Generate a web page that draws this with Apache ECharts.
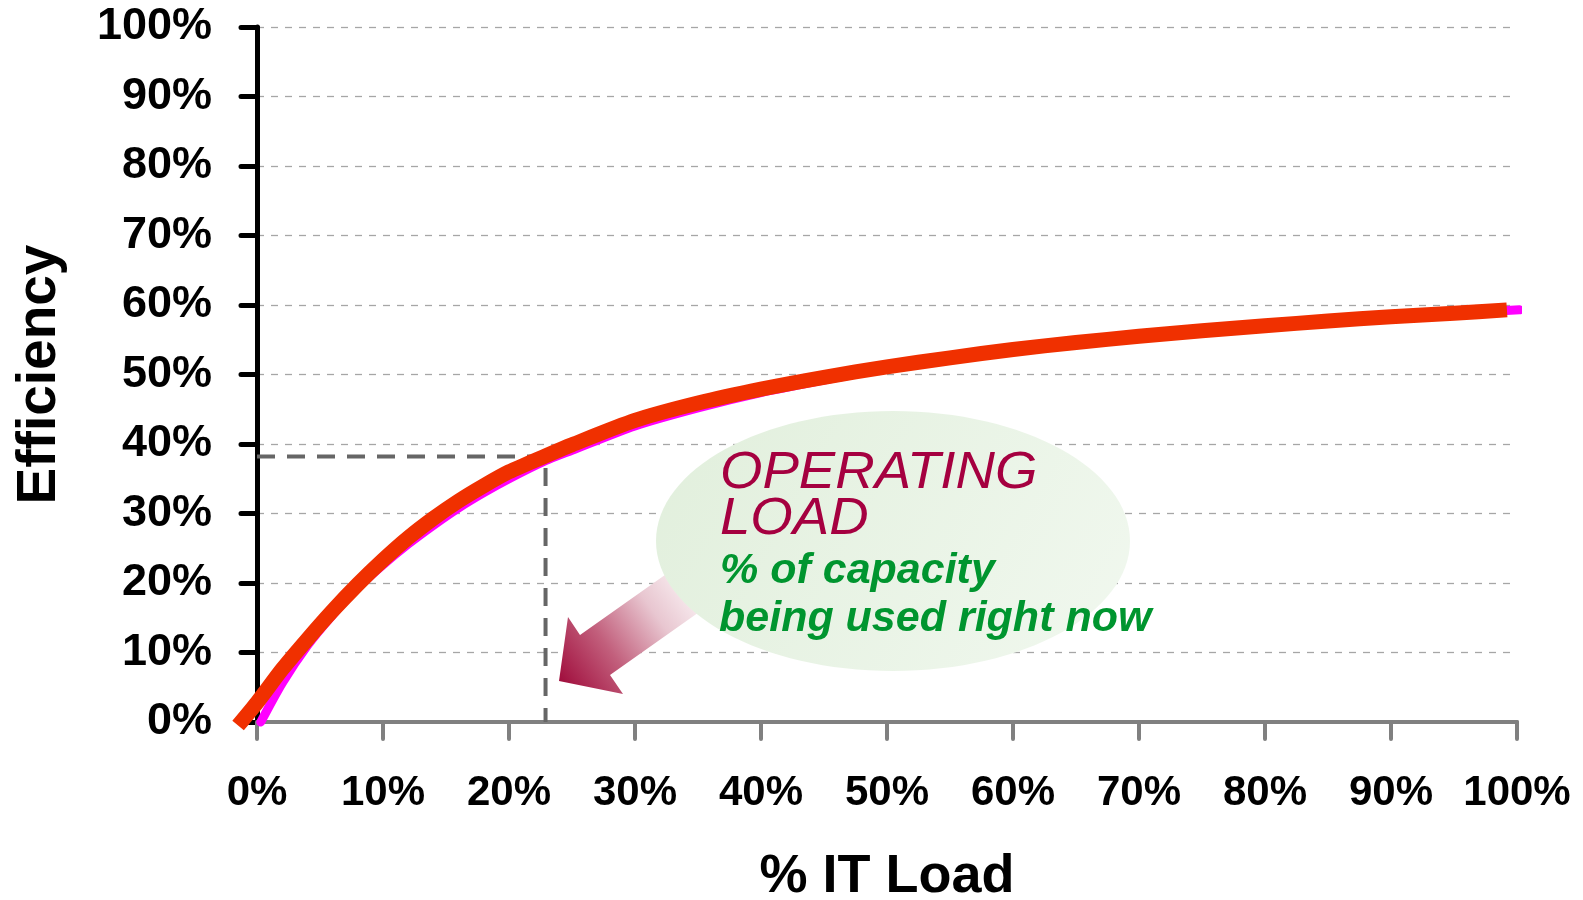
<!DOCTYPE html>
<html><head><meta charset="utf-8">
<script src="https://cdn.jsdelivr.net/npm/echarts@6/dist/echarts.min.js"></script>
<style>html,body{margin:0;padding:0;background:#fff}#c{width:1583px;height:900px}</style>
</head><body><div id="c"></div>
<script>
const FONT = '"Liberation Sans", Arial, sans-serif';

// Red (highlighted) efficiency curve: % IT load vs efficiency
const redLoad = [-1.5, 0, 2, 4, 6, 8, 10, 12, 14, 16, 18, 20, 22.9, 25, 30, 35, 40, 45, 50, 55, 60, 65, 70, 75, 80, 85, 90, 95, 99.2];
const redEff  = [-0.5, 2.8, 7.6, 11.9, 16.0, 19.8, 23.3, 26.5, 29.3, 31.8, 34.0, 36.0, 38.3, 39.9, 43.4, 45.9, 47.9, 49.6, 51.1, 52.4, 53.6, 54.6, 55.5, 56.3, 57.0, 57.7, 58.3, 58.8, 59.3];

// Magenta (underlying) efficiency curve
const magLoad = [0.3, 2, 4, 6, 8, 10, 12, 14, 16, 18, 20, 22.9, 25, 30, 35, 40, 45, 50, 55, 60, 65, 70, 75, 80, 85, 90, 95, 100.2];
const magEff  = [0, 5.6, 11.0, 15.4, 19.3, 22.6, 25.6, 28.3, 30.8, 33.0, 35.0, 37.6, 39.1, 42.6, 45.2, 47.4, 49.2, 50.9, 52.3, 53.6, 54.6, 55.5, 56.3, 57.0, 57.7, 58.3, 58.8, 59.3];

// Operating point marker (dashed guide lines)
const opLoad = [0, 22.9, 22.9];
const opEff  = [38.2, 38.2, 0];

const xAxisName = '% IT Load';
const yAxisName = 'Efficiency';
const noteTitle = ['OPERATING', 'LOAD'];
const noteText = ['% of capacity', 'being used right now'];

const zip = (a, b) => a.map((v, i) => [v, b[i]]);

const chart = echarts.init(document.getElementById('c'), null, {renderer: 'canvas'});

const option = {
  animation: false,
  backgroundColor: '#fff',
  grid: {left: 257, right: 66, top: 27, bottom: 178, containLabel: false, outerBoundsMode: 'none'},
  xAxis: {
    type: 'value', min: 0, max: 100, interval: 10,
    name: xAxisName, nameLocation: 'middle', nameGap: 128,
    nameTextStyle: {fontFamily: FONT, fontSize: 54, fontWeight: 'bold', color: '#000'},
    axisLine: {show: true, lineStyle: {color: '#808080', width: 4, cap: 'round'}},
    axisTick: {show: true, length: 17, lineStyle: {color: '#808080', width: 4, cap: 'round'}},
    axisLabel: {formatter: '{value}%', fontFamily: FONT, fontSize: 42, fontWeight: 'bold', color: '#000', margin: 50},
    splitLine: {show: false}
  },
  yAxis: {
    type: 'value', min: 0, max: 100, interval: 10,
    name: yAxisName, nameLocation: 'middle', nameGap: 190, nameRotate: 90,
    nameTextStyle: {fontFamily: FONT, fontSize: 55, fontWeight: 'bold', color: '#000'},
    axisLine: {show: true, lineStyle: {color: '#000', width: 5, cap: 'round'}},
    axisTick: {show: true, length: 16, lineStyle: {color: '#000', width: 5, cap: 'round'}},
    axisLabel: {formatter: '{value}%', fontFamily: FONT, fontSize: 45, fontWeight: 'bold', color: '#000', margin: 45},
    splitLine: {show: true, lineStyle: {color: '#A6A6A6', width: 1.3, type: [7, 7]}}
  },
  series: [
    {
      type: 'line', name: 'operating', data: zip(opLoad, opEff), symbol: 'none', z: 3,
      lineStyle: {color: '#666666', width: 4, type: [18, 12]}, clip: false, silent: true
    },
    {
      type: 'line', name: 'magenta', data: zip(magLoad, magEff), symbol: 'none', smooth: 0.25, z: 4,
      lineStyle: {color: '#FF00FF', width: 9, cap: 'round'}, clip: false
    },
    {
      type: 'custom', name: 'red', coordinateSystem: 'cartesian2d', z: 5, clip: false,
      data: [[redLoad[0], redEff[0]]],
      renderItem: function (params, api) {
        const pts = redLoad.map((x, i) => api.coord([x, redEff[i]]));
        return {
          type: 'polyline',
          shape: {points: pts, smooth: 0.25},
          style: {stroke: '#F03000', lineWidth: 15, fill: null, lineCap: 'butt', lineJoin: 'round'}
        };
      }
    }
  ],
  graphic: [
    {
      type: 'polygon', z: 10,
      shape: {points: [[559, 681], [568, 617], [580, 635], [672, 570], [702, 610], [610, 675], [623, 694]]},
      style: {
        fill: new echarts.graphic.LinearGradient(560, 680, 695, 585, [
          {offset: 0, color: '#A10F3E'},
          {offset: 0.35, color: '#C25F7C'},
          {offset: 0.7, color: '#E8C6D0'},
          {offset: 1, color: '#FBF3F5'}
        ], true)
      }
    },
    {
      type: 'ellipse', z: 11,
      shape: {cx: 893, cy: 541, rx: 237, ry: 130},
      style: {
        fill: new echarts.graphic.LinearGradient(0, 0, 1, 1, [
          {offset: 0, color: '#E1EFDC'},
          {offset: 1, color: '#F1F8EF'}
        ])
      }
    },
    {
      type: 'text', z: 12, x: 720, y: 474, scaleX: 1.07,
      style: {text: noteTitle[0], font: 'italic 51px ' + FONT, fill: '#A50040', align: 'left', verticalAlign: 'middle',
        textShadowColor: '#BDBDBD', textShadowOffsetX: 2, textShadowOffsetY: 2, textShadowBlur: 0}
    },
    {
      type: 'text', z: 12, x: 720, y: 520, scaleX: 1.07,
      style: {text: noteTitle[1], font: 'italic 51px ' + FONT, fill: '#A50040', align: 'left', verticalAlign: 'middle',
        textShadowColor: '#BDBDBD', textShadowOffsetX: 2, textShadowOffsetY: 2, textShadowBlur: 0}
    },
    {
      type: 'text', z: 12, x: 720, y: 571,
      style: {text: noteText[0], font: 'italic bold 43px ' + FONT, fill: '#00952F', align: 'left', verticalAlign: 'middle'}
    },
    {
      type: 'text', z: 12, x: 719, y: 619,
      style: {text: noteText[1], font: 'italic bold 43px ' + FONT, fill: '#00952F', align: 'left', verticalAlign: 'middle'}
    }
  ]
};
chart.setOption(option);
</script></body></html>
